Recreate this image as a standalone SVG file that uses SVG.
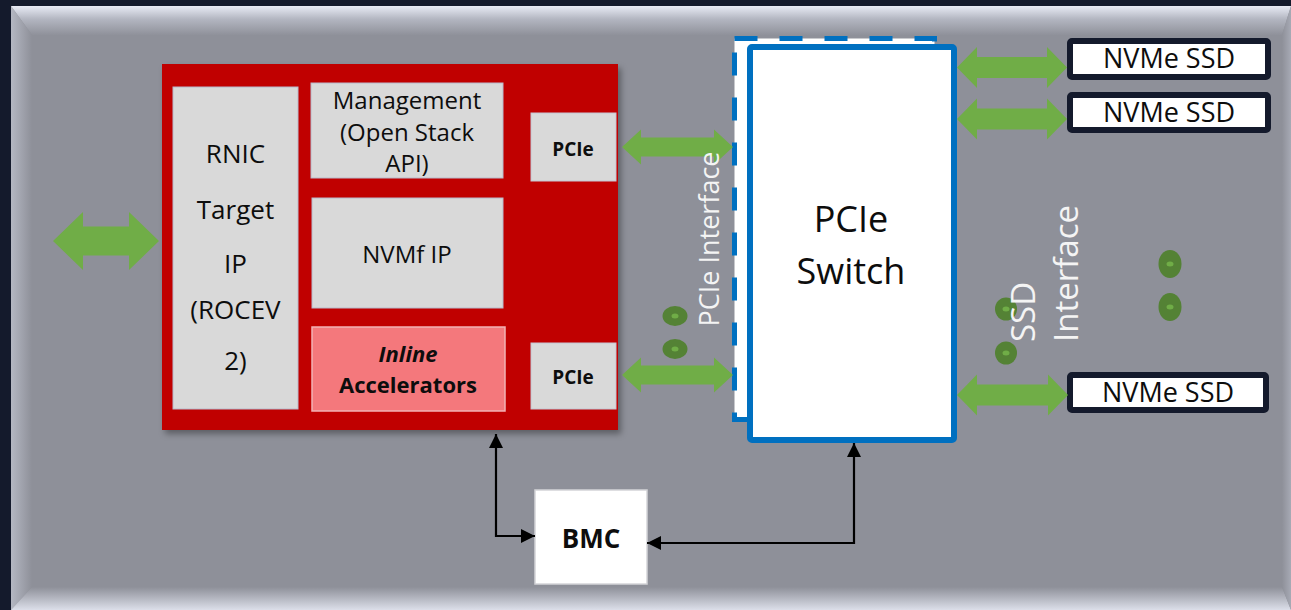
<svg xmlns="http://www.w3.org/2000/svg" width="1291" height="610" viewBox="0 0 1291 610">
  <defs>
    <linearGradient id="bevelTop" x1="0" y1="0" x2="0" y2="1">
      <stop offset="0" stop-color="#e8ebf5"/>
      <stop offset="0.45" stop-color="#b3b6c1"/>
      <stop offset="1" stop-color="#8f919a"/>
    </linearGradient>
    <linearGradient id="bevelLeft" x1="0" y1="0" x2="1" y2="0">
      <stop offset="0" stop-color="#b4b7c2"/>
      <stop offset="1" stop-color="#8e9099"/>
    </linearGradient>
    <linearGradient id="bevelBottom" x1="0" y1="0" x2="0" y2="1">
      <stop offset="0" stop-color="#8e9099"/>
      <stop offset="1" stop-color="#dcdfea"/>
    </linearGradient>
    <linearGradient id="bevelRight" x1="0" y1="0" x2="1" y2="0">
      <stop offset="0" stop-color="#8e9099"/>
      <stop offset="1" stop-color="#a7aab5"/>
    </linearGradient>
    <filter id="shadow" x="-5%" y="-5%" width="115%" height="115%">
      <feDropShadow dx="3" dy="4" stdDeviation="3" flood-color="#000" flood-opacity="0.35"/>
    </filter>
    <marker id="arrow" viewBox="0 0 10 10" markerUnits="userSpaceOnUse" markerWidth="15" markerHeight="14" refX="10" refY="5" orient="auto-start-reverse">
      <path d="M0,0 L10,5 L0,10 z" fill="#000"/>
    </marker>
  </defs>
  <style>
    text { font-family: "Open Sans", "Noto Sans", "DejaVu Sans", sans-serif; fill: #0d0d0d; text-anchor: middle; }
    .block { fill: #d9d9d9; stroke: #b7bacb; stroke-width: 1; }
    .port { fill: #d9d9d9; stroke: #c3c6d3; stroke-width: 1; }
    .big { font-size: 26px; }
    .mid { font-size: 24px; }
    .bold { font-weight: bold; }
    .label { fill: #f4f4f4; font-size: 27px; }
    .vlabel { fill: #f4f4f4; font-size: 33px; text-anchor: start; }
    .flow { fill: #70ad47; }
    .dot { fill: #548235; }
    .dotc { fill: #70ad47; }
    .ssd { fill: #ffffff; stroke: #141a2c; stroke-width: 6; }
    .ssdtext { font-size: 27px; }
    .wire { fill: none; stroke: #000; stroke-width: 2.2; marker-start: url(#arrow); marker-end: url(#arrow); }
  </style>

  <!-- backdrop and bevelled panel -->
  <rect x="0" y="0" width="1291" height="610" fill="#141a2c"/>
  <rect x="11" y="6" width="1280" height="604" fill="#8e9099"/>
  <polygon points="11,6 1291,6 1282,35 32,35" fill="url(#bevelTop)"/>
  <polygon points="11,6 32,35 32,587 11,610" fill="url(#bevelLeft)"/>
  <polygon points="11,610 32,587 1282,587 1291,610" fill="url(#bevelBottom)"/>
  <polygon points="1291,6 1282,35 1282,587 1291,610" fill="url(#bevelRight)"/>

  <!-- FPGA card -->
  <g id="card">
    <rect x="162" y="64" width="456" height="366" fill="#c00000" filter="url(#shadow)"/>
  </g>
  <g id="rnic">
    <rect class="block" x="173" y="87" width="125" height="322"/>
    <text class="big" x="235.5" y="163">RNIC</text>
    <text class="big" x="235.5" y="219">Target</text>
    <text class="big" x="235.5" y="273">IP</text>
    <text class="big" x="235.5" y="319">(ROCEV</text>
    <text class="big" x="235.5" y="370">2)</text>
  </g>
  <g id="management">
    <rect class="block" x="311" y="83" width="192" height="95"/>
    <text class="mid" x="407" y="109">Management</text>
    <text class="mid" x="407" y="141">(Open Stack</text>
    <text class="mid" x="407" y="172">API)</text>
  </g>
  <g id="nvmf">
    <rect class="block" x="312" y="198" width="191" height="110"/>
    <text class="mid" x="407" y="263">NVMf IP</text>
  </g>
  <g id="accelerators">
    <rect x="312" y="327" width="193" height="84" fill="#f4787c" stroke="#f2b3b5" stroke-width="1.5"/>
    <text class="bold" x="408" y="362" font-size="22" font-style="italic">Inline</text>
    <text class="bold" x="408" y="393" font-size="22">Accelerators</text>
  </g>
  <g id="pcie-top">
    <rect class="port" x="531" y="113" width="85" height="68"/>
    <text class="bold" x="573" y="156" font-size="19">PCIe</text>
  </g>
  <g id="pcie-bottom">
    <rect class="port" x="531" y="343" width="85" height="66"/>
    <text class="bold" x="573" y="384" font-size="19">PCIe</text>
  </g>

  <!-- PCIe switch with its interface outline -->
  <g id="switch">
    <rect x="734.5" y="38.5" width="200" height="381" fill="#ffffff" stroke="#0070c0" stroke-width="5" stroke-dasharray="23 22"/>
    <rect x="750" y="47" width="204" height="393" rx="2" fill="#ffffff" stroke="#0070c0" stroke-width="6"/>
    <text x="851" y="232" font-size="36">PCIe</text>
    <text x="851" y="284" font-size="36">Switch</text>
  </g>

  <g id="ssd1">
    <rect class="ssd" x="1070" y="41" width="198" height="36" rx="2"/>
    <text class="ssdtext" x="1169" y="68">NVMe SSD</text>
  </g>
  <g id="ssd2">
    <rect class="ssd" x="1070" y="95" width="198" height="35" rx="2"/>
    <text class="ssdtext" x="1169" y="122">NVMe SSD</text>
  </g>
  <g id="ssd3">
    <rect class="ssd" x="1070" y="375" width="196" height="35" rx="2"/>
    <text class="ssdtext" x="1168" y="402">NVMe SSD</text>
  </g>

  <g id="bmc">
    <rect x="535" y="490" width="112" height="94" fill="#ffffff" stroke="#d4d4d8" stroke-width="1.5"/>
    <text class="bold" x="591" y="548" font-size="26">BMC</text>
  </g>

  <!-- continuation dots -->
  <g id="dots">
    <ellipse class="dot" cx="675" cy="316" rx="12.5" ry="10"/>
    <ellipse class="dotc" cx="675" cy="316" rx="3.5" ry="2.5"/>
    <ellipse class="dot" cx="675" cy="349" rx="12.5" ry="10"/>
    <ellipse class="dotc" cx="675" cy="349" rx="3.5" ry="2.5"/>
    <ellipse class="dot" cx="1006" cy="309" rx="11" ry="11.5"/>
    <ellipse class="dotc" cx="1006" cy="309" rx="3.5" ry="2.5"/>
    <ellipse class="dot" cx="1006" cy="353" rx="11" ry="11.5"/>
    <ellipse class="dotc" cx="1006" cy="353" rx="3.5" ry="2.5"/>
    <ellipse class="dot" cx="1170" cy="264" rx="11.5" ry="14"/>
    <ellipse class="dotc" cx="1170" cy="264" rx="3.5" ry="2.5"/>
    <ellipse class="dot" cx="1170" cy="307" rx="11.5" ry="14"/>
    <ellipse class="dotc" cx="1170" cy="307" rx="3.5" ry="2.5"/>
  </g>

  <g id="connectors">
    <path class="flow" d="M53,241 L83,212 L83,226.5 L129,226.5 L129,212 L159,241 L129,270 L129,255.5 L83,255.5 L83,270 Z"/>
    <path class="flow" d="M622,147 L641,129.5 L641,137.5 L714,137.5 L714,129.5 L733,147 L714,164.5 L714,156.5 L641,156.5 L641,164.5 Z"/>
    <path class="flow" d="M622,375 L641,357.5 L641,365.5 L714,365.5 L714,357.5 L733,375 L714,392.5 L714,384.5 L641,384.5 L641,392.5 Z"/>
    <path class="flow" d="M957,67.5 L977,47 L977,57 L1047,57 L1047,47 L1067,67.5 L1047,88 L1047,78 L977,78 L977,88 Z"/>
    <path class="flow" d="M957,119 L977,98.5 L977,108.5 L1047,108.5 L1047,98.5 L1067,119 L1047,139.5 L1047,129.5 L977,129.5 L977,139.5 Z"/>
    <path class="flow" d="M957,395 L977,374.5 L977,384.5 L1048,384.5 L1048,374.5 L1068,395 L1048,415.5 L1048,405.5 L977,405.5 L977,415.5 Z"/>
    <path class="wire" d="M496,434 L496,536 L535,536"/>
    <path class="wire" d="M647,543 L854,543 L854,443"/>
  </g>

  <!-- interface labels -->
  <g id="labels">
    <text class="label" transform="translate(719,239) rotate(-90)">PCIe Interface</text>
    <text class="vlabel" transform="translate(1035,342) rotate(-90)">SSD</text>
    <text class="vlabel" transform="translate(1078,342) rotate(-90)">Interface</text>
  </g>
</svg>
